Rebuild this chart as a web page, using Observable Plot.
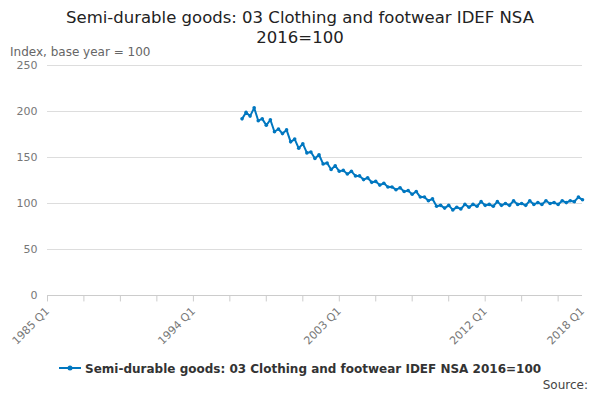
<!DOCTYPE html>
<html><head><meta charset="utf-8">
<script src="https://cdn.jsdelivr.net/npm/d3@7"></script>
<script src="https://cdn.jsdelivr.net/npm/@observablehq/plot@0.6"></script>
<style>
body{margin:0;font-family:"DejaVu Sans",sans-serif;background:#fff;}
#title{text-align:center;font-size:16.5px;color:#222;line-height:20px;padding-top:8px;width:600px;height:40px;}
#ylab{font-size:12px;color:#666;margin-left:10px;height:12px;line-height:12px;margin-top:-2px;}
#chart{height:300px;}
#legend{text-align:center;font-size:12px;font-weight:bold;color:#333;margin-top:2px;height:18px;line-height:18px;}
#src{text-align:right;font-size:12px;color:#444;margin-right:12px;line-height:14px;}
</style></head><body>
<div id="title">Semi-durable goods: 03 Clothing and footwear IDEF NSA<br>2016=100</div>
<div id="ylab">Index, base year = 100</div>
<div id="chart"></div>
<div id="legend"><svg width="22" height="10"><line x1="0" y1="5" x2="22" y2="5" stroke="#0077c0" stroke-width="2"/><circle cx="11" cy="5" r="2.5" fill="#0077c0"/></svg> Semi-durable goods: 03 Clothing and footwear IDEF NSA 2016=100</div>
<div id="src">Source:</div>
<script>
const seriesName = "Semi-durable goods: 03 Clothing and footwear IDEF NSA 2016=100";
const startYear = 1997;
const values = [
192,199,195,204, 190,192,185,191, 178,181,176,180, 167,170,160,165,
155,156,149,153, 143,144,137,141, 135,136,132,135, 130,130,126,128,
123,124,120,122, 118,118,115,117, 113,114,110,113, 107,107,103,105,
97,98,95,98, 93,96,94,99, 96,99,97,102, 98,99,97,102,
98,100,98,103, 99,100,98,103, 99,101,99,103, 100,101,99,103,
101,103,102,107, 104
];
const tickLabels = ["1985 Q1","1994 Q1","2003 Q1","2012 Q1","2018 Q1"];
const yTicks = [0,50,100,150,200,250];
const toDate = (y,q) => new Date(Date.UTC(y,(q-1)*3,1));
const data = values.map((v,i)=>({date: toDate(startYear+Math.floor(i/4), i%4+1), value:v}));
const labelDates = tickLabels.map(s=>toDate(+s.slice(0,4), +s.slice(6)));
const minor = d3.range(0,15).map(k=>toDate(1985+Math.floor(k*9/4), (k*9)%4+1)).filter(d=>d<=labelDates[4]);
const fmt = new Map(labelDates.map((d,i)=>[+d,tickLabels[i]]));
const chart = Plot.plot({
  width:600, height:300, marginTop:7, marginLeft:47, marginRight:18, marginBottom:63,
  style:{fontFamily:"DejaVu Sans", fontSize:"11px", color:"#666"},
  x:{type:"utc", domain:[labelDates[0], labelDates[4]], label:null},
  y:{domain:[0,250], label:null},
  marks:[
    Plot.gridY(yTicks,{stroke:"#ddd", strokeOpacity:1}),
    Plot.ruleX(minor,{x:d=>d, y1:0, y2:-7, stroke:"#ccc"}),
    Plot.ruleY([0],{stroke:"#ccc"}),
    Plot.axisY(yTicks,{tickSize:0, tickPadding:10, fill:"#777"}),
    Plot.axisX(labelDates,{tickSize:0, tickFormat:d=>fmt.get(+d), tickRotate:-45, fill:"#777", textAnchor:"end", dy:2}),
    Plot.line(data,{x:"date", y:"value", stroke:"#0077c0", strokeWidth:2}),
    Plot.dot(data,{x:"date", y:"value", fill:"#0077c0", r:1.8})
  ]
});
document.getElementById("chart").append(chart);
</script></body></html>
